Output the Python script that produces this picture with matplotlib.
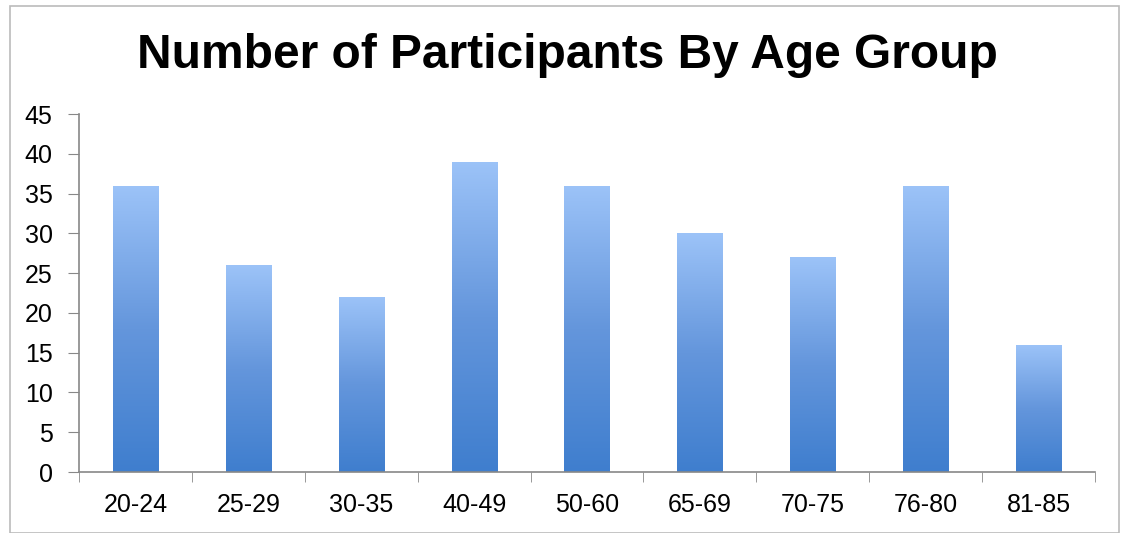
import matplotlib
matplotlib.use("Agg")
import matplotlib.pyplot as plt
import numpy as np
from matplotlib.colors import LinearSegmentedColormap
from matplotlib.patches import Rectangle

categories = ["20-24", "25-29", "30-35", "40-49", "50-60", "65-69", "70-75", "76-80", "81-85"]
values = [36, 26, 22, 39, 36, 30, 27, 36, 16]
yticks = [0, 5, 10, 15, 20, 25, 30, 35, 40, 45]

plt.rcParams['font.family'] = ['Liberation Sans', 'DejaVu Sans']

fig = plt.figure(figsize=(11.24, 5.33), dpi=100)
ax = fig.add_axes([79/1124, 1-472/533, (1095-79)/1124, (472-114)/533])

cmap = LinearSegmentedColormap.from_list("g", ["#3F7ECE", "#6496DC", "#9CC3F8"])
grad = np.linspace(0, 1, 256).reshape(-1, 1)

x = np.arange(len(categories))
bars = ax.bar(x, values, width=0.4, color='none', edgecolor='none')
for b in bars:
    x0, y0 = b.get_x(), b.get_y()
    w, h = b.get_width(), b.get_height()
    im = ax.imshow(grad, extent=[x0, x0 + w, y0, y0 + h], origin='lower',
                   cmap=cmap, aspect='auto', zorder=2, interpolation='bicubic')
    im.set_clip_path(b)

ax.set_xlim(-0.5, len(categories) - 0.5)
ax.set_ylim(0, 45)
ax.set_yticks(yticks)
ax.set_yticklabels([str(t) for t in yticks])
ax.set_xticks(x)
ax.set_xticklabels(categories)
ax.set_xticks(np.arange(-0.5, len(categories)), minor=True)
ax.tick_params(axis='x', which='major', length=0, pad=15, labelsize=18)
ax.tick_params(axis='x', which='minor', length=7, color='#888888', direction='out')
ax.tick_params(axis='y', length=8, color='#888888', labelsize=18, pad=11)
for s in ['top', 'right']:
    ax.spines[s].set_visible(False)
for s in ['left', 'bottom']:
    ax.spines[s].set_color('#888888')
    ax.spines[s].set_linewidth(1.2)

fig.text(567/1124, 1-56/533, "Number of Participants By Age Group",
         ha='center', va='center', fontsize=34.5, fontweight='bold')

fig.patches.append(Rectangle((10/1124, 0.0), (1119-10)/1124, 1-6/533, transform=fig.transFigure,
                             fill=False, edgecolor='#BBBBBB', linewidth=1.2))

fig.savefig("out.png", dpi=100)
